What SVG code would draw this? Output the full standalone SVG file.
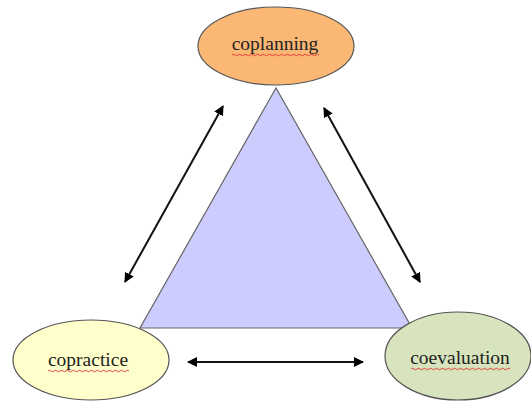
<svg xmlns="http://www.w3.org/2000/svg" width="531" height="401" viewBox="0 0 531 401">
<defs>
<marker id="ah" viewBox="0 0 10 10" refX="9" refY="5" markerWidth="5" markerHeight="5" orient="auto-start-reverse" markerUnits="strokeWidth">
<path d="M0,0 L10,5 L0,10 Z" fill="#000"/>
</marker>
<style>
.node ellipse{stroke:#555;stroke-width:1.2}
.lbl{font-family:"Liberation Serif","Times New Roman",serif;font-size:19.5px;fill:#222;text-anchor:middle}
.sq{fill:none;stroke:#e03030;stroke-width:0.9}
.conn line{stroke:#111;stroke-width:2;marker-start:url(#ah);marker-end:url(#ah)}
</style>
</defs>
<rect width="531" height="401" fill="#fff"/>
<g id="triangle">
<polygon points="276,88 140,328 412,328" fill="#ccccff" stroke="#666" stroke-width="1.2"/>
</g>
<g id="coplanning" class="node">
<ellipse cx="276" cy="46" rx="78" ry="39" fill="#fbb875"/>
<text class="lbl" x="275" y="50">coplanning</text>
<path class="sq" d="M232,55 q1.5,-1.5 3,0 t3,0 t3,0 t3,0 t3,0 t3,0 t3,0 t3,0 t3,0 t3,0 t3,0 t3,0 t3,0 t3,0 t3,0 t3,0 t3,0 t3,0 t3,0 t3,0 t3,0 t3,0 t3,0 t3,0 t3,0 t3,0 t3,0 t3,0 t3,0"/>
</g>
<g id="copractice" class="node">
<ellipse cx="91" cy="360" rx="78" ry="40" fill="#ffffcc"/>
<text class="lbl" x="88" y="366">copractice</text>
<path class="sq" d="M48,371 q1.5,-1.5 3,0 t3,0 t3,0 t3,0 t3,0 t3,0 t3,0 t3,0 t3,0 t3,0 t3,0 t3,0 t3,0 t3,0 t3,0 t3,0 t3,0 t3,0 t3,0 t3,0 t3,0 t3,0 t3,0 t3,0 t3,0 t3,0 t3,0"/>
</g>
<g id="coevaluation" class="node">
<ellipse cx="458" cy="356" rx="73" ry="44" fill="#d7e4bd"/>
<text class="lbl" x="460" y="364">coevaluation</text>
<path class="sq" d="M411,369 q1.5,-1.5 3,0 t3,0 t3,0 t3,0 t3,0 t3,0 t3,0 t3,0 t3,0 t3,0 t3,0 t3,0 t3,0 t3,0 t3,0 t3,0 t3,0 t3,0 t3,0 t3,0 t3,0 t3,0 t3,0 t3,0 t3,0 t3,0 t3,0 t3,0 t3,0 t3,0 t3,0 t3,0 t3,0"/>
</g>
<g id="connectors" class="conn">
<line x1="223" y1="106" x2="125" y2="282"/>
<line x1="324" y1="108" x2="420" y2="282"/>
<line x1="188" y1="362" x2="363" y2="362"/>
</g>
</svg>
